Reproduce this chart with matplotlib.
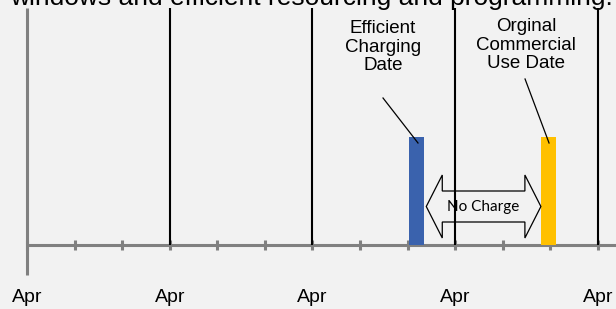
import matplotlib.pyplot as plt
from matplotlib.patches import Polygon

# timeline: one major step per year (all labelled "Apr"), minor marks every 4 months
year_pos = [0, 1, 2, 3, 4]
year_labels = ["Apr", "Apr", "Apr", "Apr", "Apr"]
minor_pos = [i / 3 for i in range(13)]

# the two dates shown as bars
bar_pos = [2.73, 3.65]
bar_height = [108, 108]
bar_colors = ["#3a62ad", "#ffc000"]

# the "no charge" span between the two dates
span_start = 2.797
span_end = 3.60

bg = "#f2f2f2"
axis_gray = "#808080"

fig = plt.figure(figsize=(6.16, 3.09), dpi=100, facecolor=bg)
ax = fig.add_axes([0, 0, 1, 1])
ax.set_facecolor(bg)
ax.set_xlim(-27 / 142.75, (616 - 27) / 142.75)
ax.set_ylim(-64, 245)
ax.axis("off")

# cut-off heading at the top
ax.text(10 / 142.75 - 27 / 142.75, 240, "windows and efficient resourcing and programming:",
        fontsize=19, family="Liberation Sans", va="baseline", ha="left", color="black")

# axis lines
ax.plot([0, 0], [-30, 237], color=axis_gray, lw=2.2, solid_capstyle="butt", zorder=2)
ax.plot([0, 4.2], [0, 0], color=axis_gray, lw=2.2, solid_capstyle="butt", zorder=2)
for m in minor_pos:
    ax.plot([m, m], [-5, 5], color=axis_gray, lw=2.2, solid_capstyle="butt", zorder=2)

# year lines and labels
for p, lab in zip(year_pos, year_labels):
    if p > 0:
        ax.plot([p, p], [0, 237], color="black", lw=1.5, solid_capstyle="butt", zorder=3)
    ax.text(p, -53, lab, fontsize=14, family="Liberation Sans", ha="center", va="center")

# bars
ax.bar(bar_pos, bar_height, width=0.105, color=bar_colors, zorder=4)

# double arrow outline
mid = 38.5
head = 16 / 142.75
body_top, body_bot = 54, 23
head_top, head_bot = 70, 7
pts = [(span_start, mid), (span_start + head, head_top), (span_start + head, body_top),
       (span_end - head, body_top), (span_end - head, head_top), (span_end, mid),
       (span_end - head, head_bot), (span_end - head, body_bot),
       (span_start + head, body_bot), (span_start + head, head_bot)]
ax.add_patch(Polygon(pts, closed=True, fill=False, edgecolor="black", lw=0.9, zorder=5))
ax.text((span_start + span_end) / 2, mid, "No Charge", fontsize=11, family="Lato",
        ha="center", va="center", zorder=6)

# callouts
ax.text(2.494, 198, "Efficient\nCharging\nDate", fontsize=13.5, family="Liberation Sans",
        ha="center", va="center", linespacing=1.1)
ax.plot([2.494, 2.739], [147, 102], color="black", lw=0.9, zorder=5)
ax.text(3.496, 200, "Orginal\nCommercial\nUse Date", fontsize=13.5, family="Liberation Sans",
        ha="center", va="center", linespacing=1.1)
ax.plot([3.489, 3.657], [166, 102], color="black", lw=0.9, zorder=5)

fig.savefig("out.png", dpi=100, facecolor=bg)
